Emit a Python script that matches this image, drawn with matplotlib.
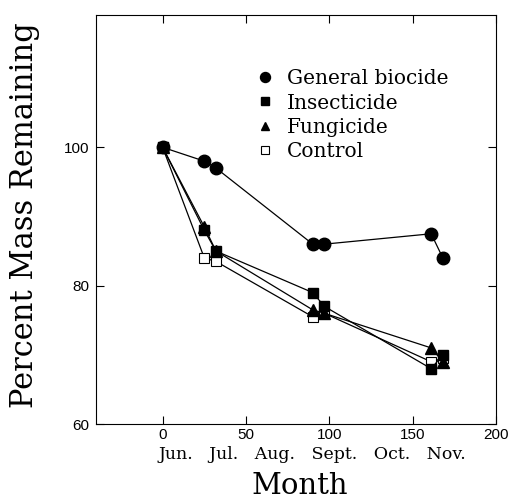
import matplotlib
matplotlib.use("Agg")
import matplotlib.pyplot as plt
import matplotlib.transforms as mtransforms

# days since start of June
days = [0, 25, 32, 90, 97, 161, 168]
biocide = [100, 98, 97, 86, 86, 87.5, 84]
insecticide = [100, 88, 85, 79, 77, 68, 70]
fungicide = [100, 88.5, 85, 76.5, 76, 71, 69]
control = [100, 84, 83.5, 75.5, 76, 69, 69.5]

xticks = [0, 50, 100, 150, 200]
yticks = [60, 80, 100]
months = "Jun.   Jul.   Aug.   Sept.   Oct.   Nov."

serif = ["DejaVu Serif"]
sans = ["Liberation Sans", "DejaVu Sans"]

fig = plt.figure(figsize=(5.1, 5.0), dpi=100)
ax = fig.add_axes([0.188, 0.152, 0.785, 0.819])

lw = 0.9
ax.plot(days, biocide, color="black", lw=lw, marker="o", ms=9,
        label="General biocide", zorder=5)
ax.plot(days, insecticide, color="black", lw=lw, marker="s", ms=7.5,
        label="Insecticide", zorder=4)
ax.plot(days, fungicide, color="black", lw=lw, marker="^", ms=8,
        label="Fungicide", zorder=3)
ax.plot(days, control, color="black", lw=lw, marker="s", ms=7.5,
        mfc="white", mew=0.8, label="Control", zorder=2)

ax.set_xlim(-40, 200)
ax.set_ylim(60, 119.2)
ax.set_xticks(xticks)
ax.set_yticks(yticks)
ax.tick_params(direction="in", length=6, width=0.8, top=True, right=True,
               labelsize=11, pad=5)
ax.tick_params(axis="x", pad=3)
for lab in ax.get_xticklabels() + ax.get_yticklabels():
    lab.set_family(sans)
for s in ax.spines.values():
    s.set_linewidth(0.8)

# month names under the day ticks
trans = mtransforms.blended_transform_factory(ax.transData, ax.transAxes)
ax.text(90, -0.074, months, transform=trans, ha="center", va="center",
        family=serif, fontsize=12.5)

ax.set_xlabel("Month", family=serif, fontsize=21)
ax.xaxis.set_label_coords(0.51, -0.118)
ax.set_ylabel("Percent Mass Remaining", family=serif, fontsize=22)
ax.yaxis.set_label_coords(-0.14, 0.51)

leg = ax.legend(loc="upper left", bbox_to_anchor=(0.352, 0.91), frameon=False,
                handlelength=1.0, handletextpad=0.6, labelspacing=0.25,
                markerscale=0.8, prop={"family": serif, "size": 14.5})
for h in leg.legend_handles:
    h.set_linestyle("none")

fig.savefig("out.png", dpi=100)
